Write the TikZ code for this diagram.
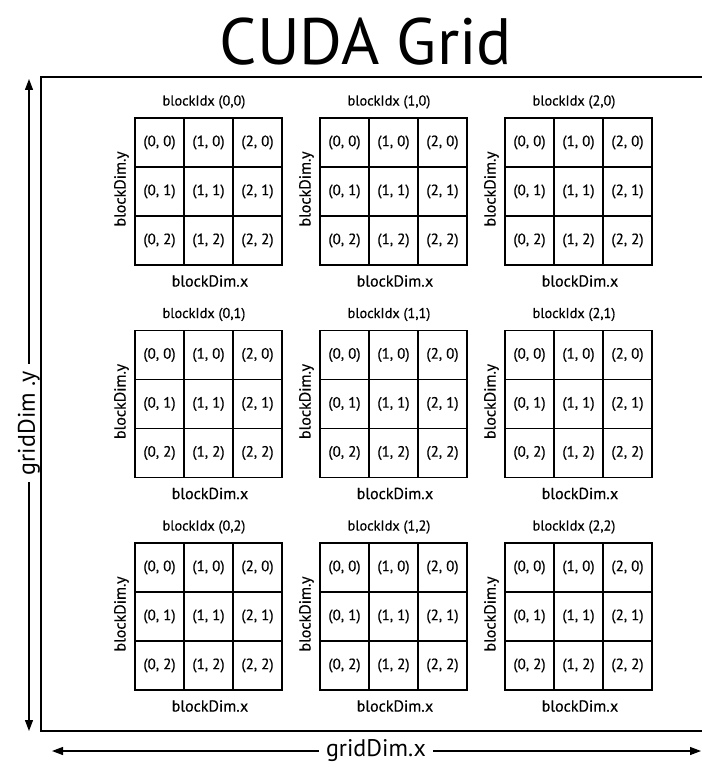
\documentclass[tikz,border=0pt]{standalone}
\usepackage{fontspec}
\setmainfont{PT Sans}
\newfontfamily\heavyfont[FakeBold=0.4]{PT Sans}
\usetikzlibrary{arrows.meta}
\tikzset{
  cell/.style={draw, line width=1.1pt, minimum width=49, minimum height=49, inner sep=0pt, font=\heavyfont\fontsize{15}{17}\selectfont},
  lbl/.style={inner sep=1pt, font=\heavyfont\fontsize{14.3}{16}\selectfont},
  dimx/.style={inner sep=1pt, font=\heavyfont\fontsize{16}{18}\selectfont},
  dimlbl/.style={inner sep=7pt, font=\fontsize{24}{28}\selectfont},
  dimarrow/.style={line width=1.2pt, -{Triangle[length=11pt, width=8pt]}},
  titlestyle/.style={font=\fontsize{65.5}{72}\selectfont, inner sep=0pt}
}
\begin{document}
\begin{tikzpicture}[x=1pt, y=-1pt]
\useasboundingbox (0,0) rectangle (701,767);
\node[titlestyle] (title) at (366,42) {CUDA Grid};
\draw[line width=1.4pt] (41,77) rectangle (720,731);
\foreach \i in {0,1,2} {
  \foreach \j in {0,1,2} {
    \pgfmathsetmacro\L{135+185*\i}
    \pgfmathsetmacro\T{118+212.5*\j}
    \foreach \c in {0,1,2} {
      \foreach \r in {0,1,2} {
        \node[cell] (b\i\j c\c\r) at (\L+24.5+49*\c, \T+24.5+49*\r) {(\c, \r)};
      }
    }
    \node[lbl] (idx\i\j) at (\L+69, \T-16) {blockIdx (\i,\j)};
    \node[dimx] (dx\i\j) at (\L+75, \T+163) {blockDim.x};
    \node[dimx, rotate=90] (dy\i\j) at (\L-13.5, \T+71) {blockDim.y};
  }
}
\coordinate (ytop) at (29,79);
\coordinate (ybot) at (29,731);
\node[dimlbl, rotate=90] (gy) at (29,423) {gridDim .y};
\draw[dimarrow] (gy) -- (ytop);
\draw[dimarrow] (gy) -- (ybot);
\coordinate (xleft) at (52,751);
\coordinate (xright) at (701,751);
\node[dimlbl] (gx) at (376,751) {gridDim.x};
\draw[dimarrow] (gx) -- (xleft);
\draw[dimarrow] (gx) -- (xright);
\end{tikzpicture}
\end{document}
